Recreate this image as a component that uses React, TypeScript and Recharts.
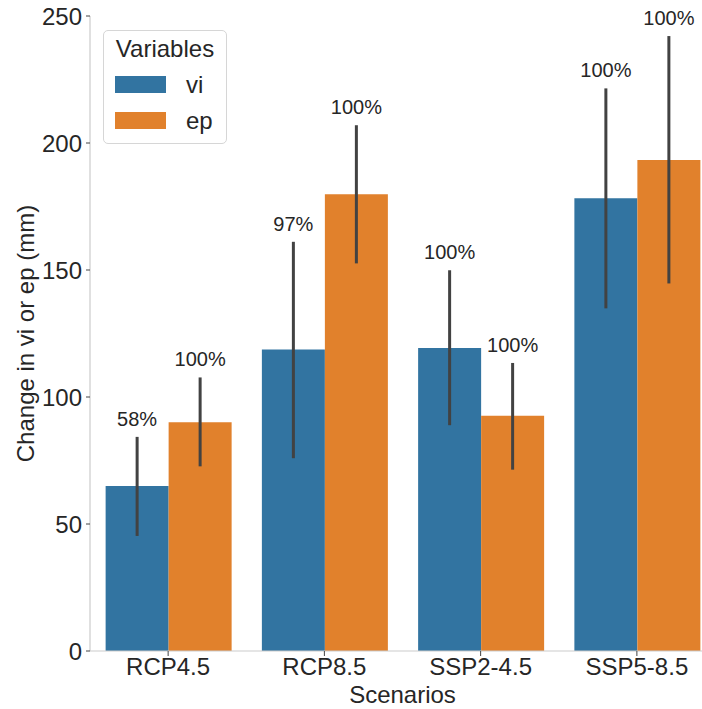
import React from 'react';
import { BarChart, Bar, XAxis, YAxis, ErrorBar, LabelList, Legend, Label } from 'recharts';

// Mean change per scenario with the bounds of its confidence interval (mm)
const scenarios = ['RCP4.5', 'RCP8.5', 'SSP2-4.5', 'SSP5-8.5'];
const viMean = [65.0, 118.7, 119.3, 178.2];
const viLow = [45.3, 75.9, 88.9, 134.9];
const viHigh = [84.3, 161.1, 149.9, 221.5];
const epMean = [90.1, 179.8, 92.6, 193.3];
const epLow = [72.7, 152.6, 71.4, 144.7];
const epHigh = [107.7, 207.0, 113.4, 242.1];
// Share of members agreeing on the sign of the change
const viShare = ['58%', '97%', '100%', '100%'];
const epShare = ['100%', '100%', '100%', '100%'];
const yTicks = [0, 50, 100, 150, 200, 250];

const VI_COLOR = '#3274a1';
const EP_COLOR = '#e1812c';
const ERR_COLOR = '#424242';
const TEXT_COLOR = '#262626';
const FONT = '"Liberation Sans", Arial, sans-serif';

const data = scenarios.map((s, i) => ({
  scenario: s,
  idx: i,
  vi: viMean[i],
  viErr: [viMean[i] - viLow[i], viHigh[i] - viMean[i]],
  ep: epMean[i],
  epErr: [epMean[i] - epLow[i], epHigh[i] - epMean[i]],
}));

// Percentage label sitting just above the top of each error bar.
const makeShareLabel = (means: number[], highs: number[], shares: string[]) => (props: any) => {
  const vb = props.viewBox ?? props;
  const x = Number(vb.x ?? props.x);
  const y = Number(vb.y ?? props.y);
  const width = Number(vb.width ?? props.width);
  const height = Number(vb.height ?? props.height);
  const i = Number(props.value);
  if (!Number.isFinite(i) || !Number.isFinite(y)) return null;
  const pxPerUnit = height / means[i];
  const errTop = y - (highs[i] - means[i]) * pxPerUnit;
  return (
    <text
      x={x + width / 2}
      y={errTop - 11}
      textAnchor="middle"
      fontSize={20}
      fontFamily={FONT}
      fill={TEXT_COLOR}
    >
      {shares[i]}
    </text>
  );
};

const legendItems = [
  { name: 'vi', color: VI_COLOR },
  { name: 'ep', color: EP_COLOR },
];

const renderLegend = () => (
  <div
    style={{
      position: 'relative',
      width: 124,
      height: 114,
      boxSizing: 'border-box',
      border: '1px solid #d6d6d6',
      borderRadius: 5,
      background: 'rgba(255,255,255,0.85)',
      fontFamily: FONT,
      fontSize: 24,
      lineHeight: '24px',
      color: TEXT_COLOR,
    }}
  >
    <div style={{ position: 'absolute', left: 0, width: 122, top: 6, textAlign: 'center' }}>
      Variables
    </div>
    {legendItems.map((it, k) => (
      <React.Fragment key={it.name}>
        <div
          style={{
            position: 'absolute',
            left: 11,
            top: 45 + k * 36,
            width: 51,
            height: 17,
            background: it.color,
          }}
        />
        <div style={{ position: 'absolute', left: 82, top: 42 + k * 36 }}>{it.name}</div>
      </React.Fragment>
    ))}
  </div>
);

const YTitle = (props: any) => {
  const vb = props.viewBox || {};
  const cx = 26;
  const cy = (vb.y ?? 16) + (vb.height ?? 635) / 2;
  return (
    <text
      x={cx}
      y={cy}
      transform={`rotate(-90 ${cx} ${cy})`}
      textAnchor="middle"
      dy="0.35em"
      fontSize={24}
      fontFamily={FONT}
      fill={TEXT_COLOR}
    >
      Change in vi or ep (mm)
    </text>
  );
};

export default function App() {
  return (
    <div
      style={{
        position: 'absolute',
        left: 0,
        top: 0,
        width: 702,
        height: 709,
        overflow: 'hidden',
        background: '#ffffff',
        fontFamily: FONT,
      }}
    >
      {/* the last category band runs past the right edge, so the right margin is negative */}
      <BarChart
        width={702}
        height={709}
        data={data}
        margin={{ top: 16, right: -13, bottom: 0, left: 0 }}
        barCategoryGap="10%"
        barGap={0}
      >
        <XAxis
          dataKey="scenario"
          height={58}
          tickSize={5}
          tickMargin={2}
          axisLine={{ stroke: '#cccccc', strokeWidth: 1.2 }}
          tickLine={{ stroke: '#444444' }}
          tick={{ fontSize: 24, fill: TEXT_COLOR, fontFamily: FONT }}
          interval={0}
        >
          <Label
            value="Scenarios"
            position="insideBottom"
            offset={6}
            fontSize={24}
            fontFamily={FONT}
            fill={TEXT_COLOR}
          />
        </XAxis>
        <YAxis
          width={90}
          domain={[0, 250]}
          ticks={yTicks}
          allowDataOverflow
          tickSize={4}
          tickMargin={4}
          axisLine={{ stroke: '#cccccc', strokeWidth: 1.2 }}
          tickLine={{ stroke: '#444444' }}
          tick={{ fontSize: 24, fill: TEXT_COLOR, fontFamily: FONT }}
          label={<YTitle />}
        />
        <Legend
          layout="vertical"
          align="center"
          verticalAlign="middle"
          content={renderLegend}
          wrapperStyle={{ left: 103, top: 30, width: 124, height: 114 }}
        />
        <Bar dataKey="vi" name="vi" fill={VI_COLOR} isAnimationActive={false}>
          <ErrorBar dataKey="viErr" width={0} stroke={ERR_COLOR} strokeWidth={3} isAnimationActive={false} />
          <LabelList dataKey="idx" content={makeShareLabel(viMean, viHigh, viShare)} />
        </Bar>
        <Bar dataKey="ep" name="ep" fill={EP_COLOR} isAnimationActive={false}>
          <ErrorBar dataKey="epErr" width={0} stroke={ERR_COLOR} strokeWidth={3} isAnimationActive={false} />
          <LabelList dataKey="idx" content={makeShareLabel(epMean, epHigh, epShare)} />
        </Bar>
      </BarChart>
    </div>
  );
}
